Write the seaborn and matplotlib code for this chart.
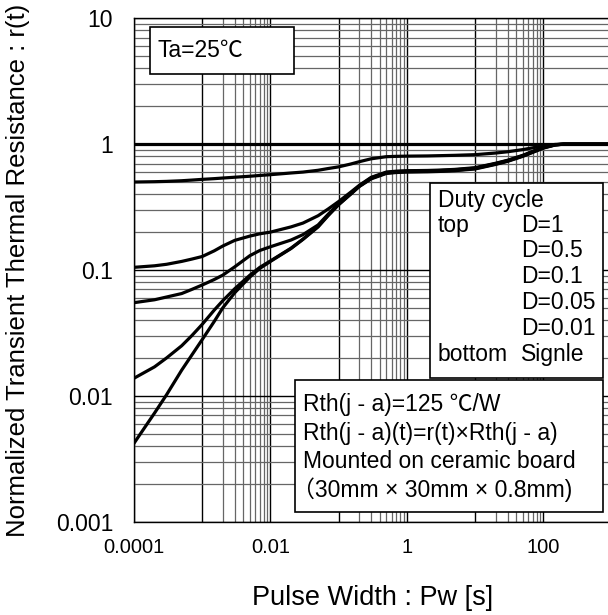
import matplotlib
matplotlib.use("Agg")
import numpy as np
import pandas as pd
import seaborn as sns
import matplotlib.pyplot as plt
from matplotlib.patches import Rectangle

# ---------------- data ----------------
pulse_width = [1e-4, 2e-4, 3e-4, 5e-4, 7e-4, 1e-3, 1.5e-3, 2e-3, 3e-3, 5e-3, 7e-3,
               1e-2, 2e-2, 3e-2, 5e-2, 7e-2, 0.1, 0.15, 0.2, 0.3, 0.5, 0.7,
               1, 2, 3, 5, 10, 20, 30, 50, 70, 100, 150, 200, 1000]

r_d1 = [1.0] * len(pulse_width)
r_d05 = [0.50, 0.503, 0.506, 0.512, 0.518, 0.525, 0.532, 0.538, 0.546, 0.556, 0.564,
         0.572, 0.59, 0.60, 0.62, 0.64, 0.66, 0.695, 0.725, 0.765, 0.795, 0.80,
         0.803, 0.806, 0.81, 0.815, 0.825, 0.85, 0.87, 0.905, 0.935, 0.97, 0.995, 1.0, 1.0]
r_d01 = [0.105, 0.108, 0.111, 0.117, 0.122, 0.128, 0.142, 0.155, 0.172, 0.186, 0.194,
         0.200, 0.22, 0.236, 0.27, 0.305, 0.35, 0.415, 0.47, 0.545, 0.60, 0.61,
         0.615, 0.618, 0.622, 0.63, 0.65, 0.705, 0.745, 0.815, 0.875, 0.945, 0.99, 1.0, 1.0]
r_d005 = [0.055, 0.058, 0.061, 0.065, 0.070, 0.076, 0.084, 0.091, 0.106, 0.130, 0.143,
          0.153, 0.173, 0.191, 0.228, 0.277, 0.336, 0.405, 0.465, 0.54, 0.595, 0.605,
          0.61, 0.613, 0.617, 0.625, 0.645, 0.70, 0.74, 0.81, 0.87, 0.94, 0.99, 1.0, 1.0]
r_d001 = [0.0138, 0.017, 0.020, 0.025, 0.030, 0.037, 0.048, 0.057, 0.071, 0.091, 0.105,
          0.118, 0.149, 0.176, 0.222, 0.272, 0.332, 0.402, 0.462, 0.535, 0.59, 0.60,
          0.605, 0.608, 0.612, 0.62, 0.64, 0.695, 0.735, 0.805, 0.865, 0.935, 0.987, 1.0, 1.0]
r_single = [0.0042, 0.0073, 0.0102, 0.016, 0.021, 0.028, 0.039, 0.050, 0.066, 0.088, 0.103,
            0.117, 0.148, 0.175, 0.22, 0.27, 0.33, 0.40, 0.46, 0.53, 0.585, 0.595,
            0.60, 0.603, 0.607, 0.615, 0.635, 0.69, 0.73, 0.80, 0.86, 0.93, 0.985, 1.0, 1.0]

series_names = ["D=1", "D=0.5", "D=0.1", "D=0.05", "D=0.01", "Single"]
series_values = [r_d1, r_d05, r_d01, r_d005, r_d001, r_single]

x_tick_values = [1e-4, 1e-2, 1, 100]
x_tick_labels = ["0.0001", "0.01", "1", "100"]
y_tick_values = [1e-3, 1e-2, 1e-1, 1, 10]
y_tick_labels = ["0.001", "0.01", "0.1", "1", "10"]

x_label = "Pulse Width : Pw [s]"
y_label = "Normalized Transient Thermal Resistance : r(t)"
ta_text = "Ta=25℃"
duty_title = "Duty cycle"
duty_left = ["top", "", "", "", "", "bottom"]
duty_right = ["D=1", "D=0.5", "D=0.1", "D=0.05", "D=0.01", "Signle"]
note_lines = ["Rth(j - a)=125 ℃/W",
              "Rth(j - a)(t)=r(t)×Rth(j - a)",
              "Mounted on ceramic board",
              "（30mm × 30mm × 0.8mm)"]

# ---------------- table ----------------
rows = []
for name, vals in zip(series_names, series_values):
    for xv, yv in zip(pulse_width, vals):
        rows.append({"Pw": xv, "r": yv, "series": name})
df = pd.DataFrame(rows)

# ---------------- figure ----------------
sns.set_theme(style="white")
FONT = ["Liberation Sans", "Noto Sans CJK JP", "DejaVu Sans"]
plt.rcParams["font.family"] = FONT

W, H = 608, 615
fig = plt.figure(figsize=(W / 100, H / 100), dpi=100)
AX_L, AX_R, AX_T, AX_B = 134.0, 611.5, 18.3, 521.7
ax = fig.add_axes([AX_L / W, (H - AX_B) / H, (AX_R - AX_L) / W, (AX_B - AX_T) / H])

sns.lineplot(data=df, x="Pw", y="r", hue="series", hue_order=series_names,
             palette=["black"] * len(series_names), linewidth=2.3, legend=False,
             estimator=None, sort=False, ax=ax, zorder=3)

ax.set_xscale("log")
ax.set_yscale("log")
ax.set_xlim(1e-4, 1e3)
ax.set_ylim(1e-3, 10)

# grid: every decade major; x minor only in alternate decades
x_major = [10.0 ** e for e in range(-4, 4)]
x_minor = [k * 10.0 ** e for e in (-3, -1, 1) for k in range(2, 10)]
y_minor = [k * 10.0 ** e for e in range(-3, 1) for k in range(2, 10)]
ax.set_xticks(x_major)
ax.set_xticklabels([x_tick_labels[x_tick_values.index(v)] if v in x_tick_values else ""
                    for v in x_major])
ax.set_xticks(x_minor, minor=True)
ax.set_xticklabels([], minor=True)
ax.set_yticks(y_tick_values)
ax.set_yticklabels(y_tick_labels)
ax.set_yticks(y_minor, minor=True)
ax.set_yticklabels([], minor=True)

ax.grid(which="major", color="black", linewidth=1.0, zorder=1)
ax.grid(which="minor", color="#666666", linewidth=0.9, zorder=1)
ax.set_axisbelow(True)
ax.tick_params(which="both", length=0)
ax.tick_params(axis="x", which="major", pad=12, labelsize=14.5, colors="black")
ax.tick_params(axis="y", which="major", pad=15, labelsize=16.5, colors="black")
for s in ax.spines.values():
    s.set_color("black")
    s.set_linewidth(1.0)

ax.set_xlabel(x_label, fontsize=19.5, color="black")
ax.set_ylabel(y_label, fontsize=18.5, color="black")
ax.xaxis.set_label_coords(0.5, -(598 - AX_B) / (AX_B - AX_T))
ax.xaxis.label.set_va("center")
ax.yaxis.set_label_coords((18 - AX_L) / (AX_R - AX_L), 0.5)
ax.yaxis.label.set_va("center")


def pax(x, y):
    return ((x - AX_L) / (AX_R - AX_L), (AX_B - y) / (AX_B - AX_T))


def box(x0, y0, x1, y1):
    ax0, ay1 = pax(x0, y0)
    ax1, ay0 = pax(x1, y1)
    ax.add_patch(Rectangle((ax0, ay0), ax1 - ax0, ay1 - ay0, transform=ax.transAxes,
                           facecolor="white", edgecolor="black", linewidth=1.2,
                           zorder=5, clip_on=False))


def txt(x, y, s, size=16.5):
    tx, ty = pax(x, y)
    ax.text(tx, ty, s, transform=ax.transAxes, ha="left", va="center",
            fontsize=size, color="black", zorder=6, family=FONT)


# Ta box
box(150, 27, 294, 74)
txt(158, 50, ta_text)

# Duty cycle box
box(430, 183, 603, 378)
txt(438, 200, duty_title)
for i, (l, r) in enumerate(zip(duty_left, duty_right)):
    yy = 225 + i * 25.8
    if l:
        txt(438, yy, l)
    txt(521, yy, r)

# Note box
box(295, 380, 603, 512)
for i, line in enumerate(note_lines):
    xx = 292 if line.startswith("（") else 303
    txt(xx, 405 + i * 28.2, line)

fig.savefig("out.png", dpi=100)
